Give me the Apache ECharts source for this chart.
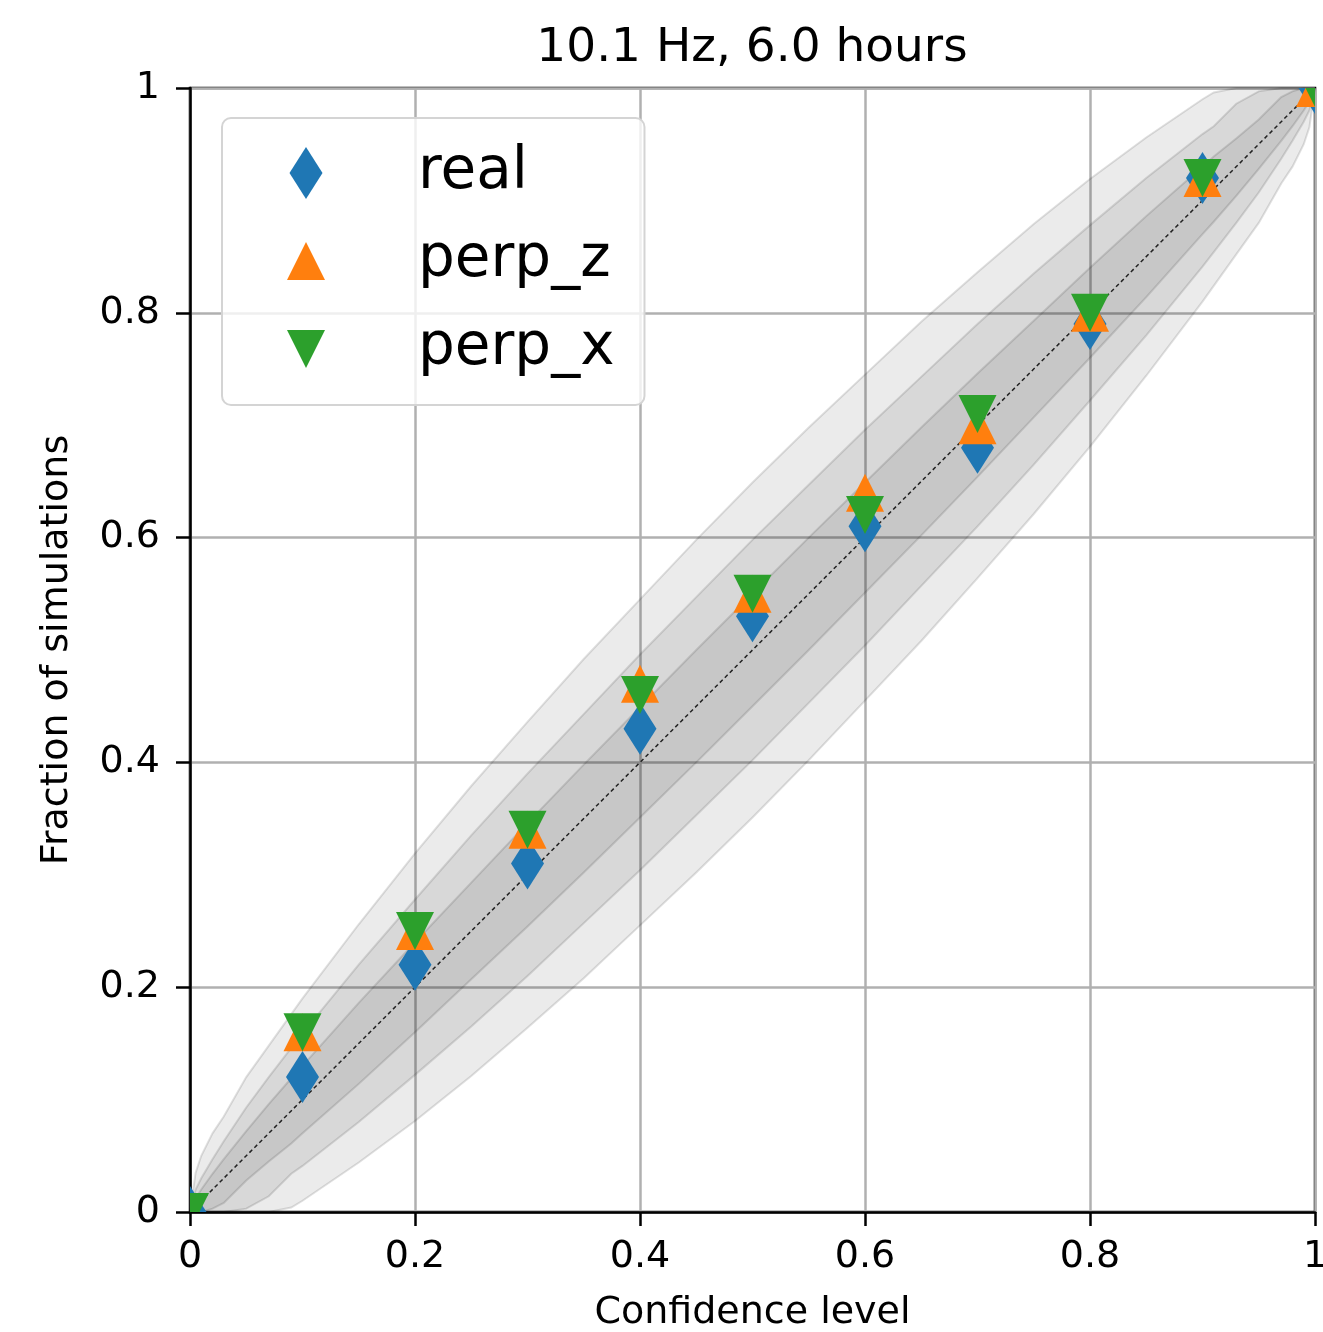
<!DOCTYPE html>
<html>
<head>
<meta charset="utf-8">
<script src="https://cdn.jsdelivr.net/npm/echarts@6/dist/echarts.min.js"></script>
<style>
html,body{margin:0;padding:0;background:#fff;}
#chart{width:1323px;height:1332px;}
</style>
</head>
<body>
<div id="chart"></div>
<script>
// ---- data ----
const confLevels = [0, 0.1, 0.2, 0.3, 0.4, 0.5, 0.6, 0.7, 0.8, 0.9, 1.0];
const realFrac   = [0, 0.12, 0.22, 0.31, 0.43, 0.53, 0.61, 0.68, 0.79, 0.92, 1.0];
const perpZFrac  = [0, 0.16, 0.25, 0.34, 0.47, 0.55, 0.64, 0.70, 0.80, 0.92, 1.0];
const perpXFrac  = [0, 0.16, 0.25, 0.34, 0.46, 0.55, 0.62, 0.71, 0.80, 0.92, 1.0];
const seriesNames = ['real', 'perp_z', 'perp_x'];

// confidence bands (68%, 95%, 99.7%)
const bandX    = [0,0.005,0.01,0.02,0.03,0.05,0.07,0.09,0.1,0.15,0.2,0.25,0.3,0.35,0.4,0.45,0.5,0.55,0.6,0.65,0.7,0.75,0.8,0.85,0.9,0.91,0.93,0.95,0.97,0.98,0.99,0.995,1];
const upper68  = [0,0.012,0.02,0.034,0.047,0.072,0.096,0.119,0.13,0.186,0.24,0.293,0.346,0.398,0.449,0.50,0.55,0.60,0.649,0.698,0.746,0.793,0.84,0.886,0.93,0.939,0.955,0.972,0.992,0.997,1,1,1];
const lower68  = [0,0,0,0.003,0.008,0.028,0.045,0.061,0.07,0.114,0.16,0.207,0.254,0.302,0.351,0.40,0.45,0.50,0.551,0.602,0.654,0.707,0.76,0.814,0.87,0.881,0.904,0.928,0.953,0.966,0.98,0.988,1];
const upper95  = [0,0.02,0.03,0.047,0.063,0.093,0.12,0.146,0.159,0.22,0.278,0.335,0.39,0.443,0.496,0.547,0.598,0.647,0.696,0.743,0.79,0.835,0.878,0.92,0.959,0.966,0.986,0.997,1,1,1,1,1];
const lower95  = [0,0,0,0,0,0.003,0.014,0.034,0.041,0.08,0.122,0.165,0.21,0.257,0.304,0.353,0.402,0.453,0.504,0.557,0.61,0.665,0.722,0.78,0.841,0.854,0.88,0.907,0.937,0.953,0.97,0.98,1];
const upper997 = [0,0.035,0.05,0.07,0.085,0.12,0.148,0.176,0.19,0.256,0.319,0.379,0.436,0.492,0.545,0.598,0.649,0.698,0.745,0.792,0.836,0.879,0.919,0.956,0.99,0.996,1,1,1,1,1,1,1];
const lower997 = [0,0,0,0,0,0,0,0.004,0.01,0.044,0.081,0.121,0.164,0.208,0.255,0.302,0.351,0.402,0.455,0.508,0.564,0.621,0.681,0.744,0.81,0.824,0.852,0.88,0.915,0.93,0.95,0.965,1];
const diagX = [0, 1];

const colors = ['#1f77b4', '#ff7f0e', '#2ca02c'];
const FONT = 'DejaVu Sans';

function pairs(xs, ys) { return xs.map((x, i) => [x, ys[i]]); }

function bandRenderer(up, lo) {
  return function (params, api) {
    const pts = [];
    for (let i = 0; i < bandX.length; i++) pts.push(api.coord([bandX[i], up[i]]));
    for (let i = bandX.length - 1; i >= 0; i--) pts.push(api.coord([bandX[i], lo[i]]));
    return {
      type: 'polygon',
      shape: { points: pts, smooth: 0 },
      style: { fill: 'rgba(0,0,0,0.08)', stroke: 'rgba(0,0,0,0.12)', lineWidth: 2 }
    };
  };
}

function markerRenderer(kind, color) {
  return function (params, api) {
    const c = api.coord([api.value(0), api.value(1)]);
    const x = c[0], y = c[1];
    let pts;
    if (kind === 'diamond') {
      pts = [[x, y - 26], [x + 16.5, y], [x, y + 26], [x - 16.5, y]];
    } else if (kind === 'up') {
      pts = [[x, y - 19], [x + 19, y + 19], [x - 19, y + 19]];
    } else {
      pts = [[x - 19, y - 19], [x + 19, y - 19], [x, y + 19]];
    }
    const cs = params.coordSys;
    return {
      type: 'polygon',
      shape: { points: pts },
      style: { fill: color },
      clipPath: { type: 'rect', shape: { x: cs.x, y: cs.y, width: cs.width, height: cs.height } }
    };
  };
}

const chart = echarts.init(document.getElementById('chart'), null, { renderer: 'canvas' });

const axisCommon = {
  type: 'value', min: 0, max: 1, interval: 0.2,
  axisLine: { show: true, onZero: false, lineStyle: { color: '#000', width: 2.5 } },
  axisTick: { show: true, inside: false, length: 14, lineStyle: { color: '#000', width: 2.5 } },
  splitLine: { show: true, lineStyle: { color: '#b0b0b0', width: 2.5 } },
  nameLocation: 'middle',
  nameTextStyle: { fontFamily: FONT, fontSize: 38, color: '#000' }
};

const option = {
  animation: false,
  backgroundColor: '#fff',
  title: {
    text: '10.1 Hz, 6.0 hours',
    left: 752, top: 25, padding: 0, textAlign: 'center',
    textStyle: { fontFamily: FONT, fontSize: 47, fontWeight: 'normal', color: '#000' }
  },
  grid: {
    left: 190, top: 88, right: 8, bottom: 120,
    containLabel: false, outerBoundsMode: 'none',
    show: true, borderColor: '#000', borderWidth: 2.5, backgroundColor: 'transparent'
  },
  xAxis: Object.assign({}, axisCommon, {
    name: 'Confidence level', nameGap: 82,
    axisLabel: { fontFamily: FONT, fontSize: 38, color: '#000', margin: 26 }
  }),
  yAxis: Object.assign({}, axisCommon, {
    name: 'Fraction of simulations', nameGap: 114,
    axisLabel: { fontFamily: FONT, fontSize: 38, color: '#000', margin: 30 }
  }),
  legend: {
    show: true, orient: 'vertical', left: 222, top: 118,
    padding: [26, 30, 27, 65],
    itemGap: 30, itemWidth: 38, itemHeight: 52,
    selectedMode: false,
    backgroundColor: 'rgba(255,255,255,0.8)',
    borderColor: '#d4d4d4', borderWidth: 2, borderRadius: 9,
    textStyle: { fontFamily: FONT, fontSize: 58, color: '#000', padding: [0, 0, 0, 88], lineHeight: 52 },
    data: [
      { name: seriesNames[0], icon: 'path://M16.5,0L33,26L16.5,52L0,26Z', itemStyle: { color: colors[0] } },
      { name: seriesNames[1], icon: 'path://M19,0L38,38L0,38Z', itemStyle: { color: colors[1] } },
      { name: seriesNames[2], icon: 'path://M0,0L38,0L19,38Z', itemStyle: { color: colors[2] } }
    ]
  },
  series: [
    { type: 'custom', name: 'band997', silent: true, z: 1, data: [[0.5, 0.5]], encode: { x: 0, y: 1 }, renderItem: bandRenderer(upper997, lower997) },
    { type: 'custom', name: 'band95', silent: true, z: 1, data: [[0.5, 0.5]], encode: { x: 0, y: 1 }, renderItem: bandRenderer(upper95, lower95) },
    { type: 'custom', name: 'band68', silent: true, z: 1, data: [[0.5, 0.5]], encode: { x: 0, y: 1 }, renderItem: bandRenderer(upper68, lower68) },
    {
      type: 'line', name: 'diag', silent: true, z: 2, symbol: 'none',
      data: pairs(diagX, diagX),
      lineStyle: { color: '#222', width: 1.5, type: [4, 3] }
    },
    { type: 'custom', name: seriesNames[0], z: 3, itemStyle: { color: colors[0] }, data: pairs(confLevels, realFrac), encode: { x: 0, y: 1 }, renderItem: markerRenderer('diamond', colors[0]) },
    { type: 'custom', name: seriesNames[1], z: 4, itemStyle: { color: colors[1] }, data: pairs(confLevels, perpZFrac), encode: { x: 0, y: 1 }, renderItem: markerRenderer('up', colors[1]) },
    { type: 'custom', name: seriesNames[2], z: 5, itemStyle: { color: colors[2] }, data: pairs(confLevels, perpXFrac), encode: { x: 0, y: 1 }, renderItem: markerRenderer('down', colors[2]) }
  ]
};

chart.setOption(option);
</script>
</body>
</html>
